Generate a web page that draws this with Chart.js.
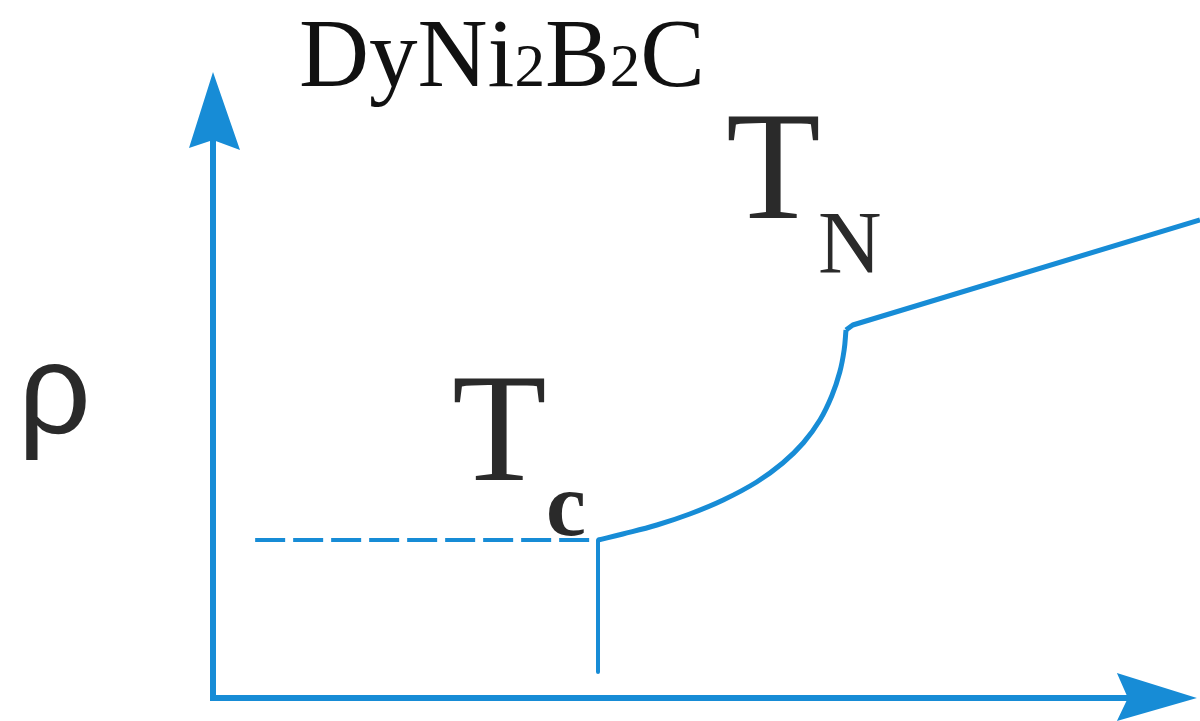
<!doctype html>
<html>

<head>
	<title>DyNi2B2C resistivity</title>
	<script src="https://cdn.jsdelivr.net/npm/chart.js@4.4.1/dist/chart.umd.min.js"></script>
	<style>
		html, body {
			margin: 0;
			padding: 0;
			background: #fff;
		}
		canvas {
			display: block;
		}
	</style>
</head>

<body>
	<canvas id="canvas" width="1200" height="721"></canvas>
	<script>
		// temperature (K) and resistivity (arb. units)
		var FLUCT_T = [0.68, 6.21];
		var FLUCT_RHO = [15.8, 15.8];

		var DROP_T = [6.21, 6.21];
		var DROP_RHO = [15.8, 2.6];

		var CURVE_T = [6.21, 6.61, 7.16, 7.69, 8.23, 8.77, 9.19, 9.52, 9.79, 9.98, 10.11, 10.18, 10.21];
		var CURVE_RHO = [15.8, 16.4, 17.3, 18.4, 19.8, 21.6, 23.5, 25.5, 27.8, 30.2, 32.6, 34.8, 36.8];

		var NORMAL_T = [10.21, 10.32, 15.92];
		var NORMAL_RHO = [36.8, 37.3, 47.8];

		// extent of the drawn axes (arrow tips)
		var AXIS_T_MAX = 15.87;
		var AXIS_RHO_MAX = 62.6;

		var BLUE = '#178cd6';

		function pts(xs, ys) {
			return xs.map(function(x, i) {
				return {x: x, y: ys[i]};
			});
		}

		var axesPlugin = {
			id: 'arrowAxes',
			beforeDatasetsDraw: function(chart) {
				var ctx = chart.ctx;
				var sx = chart.scales.x;
				var sy = chart.scales.y;
				var ox = sx.getPixelForValue(0);
				var oy = sy.getPixelForValue(0);
				var tx = sx.getPixelForValue(AXIS_T_MAX);
				var ty = sy.getPixelForValue(AXIS_RHO_MAX);

				ctx.save();
				ctx.strokeStyle = BLUE;
				ctx.fillStyle = BLUE;
				ctx.lineWidth = 6;
				ctx.lineCap = 'butt';
				ctx.beginPath();
				ctx.moveTo(ox, ty + 40);
				ctx.lineTo(ox, oy);
				ctx.lineTo(tx - 40, oy);
				ctx.stroke();

				// arrow heads
				ctx.beginPath();
				ctx.moveTo(ox, ty);
				ctx.lineTo(ox + 27, ty + 78);
				ctx.lineTo(ox, ty + 68);
				ctx.lineTo(ox - 24, ty + 76);
				ctx.closePath();
				ctx.fill();

				ctx.beginPath();
				ctx.moveTo(tx, oy);
				ctx.lineTo(tx - 80, oy + 23);
				ctx.lineTo(tx - 69, oy);
				ctx.lineTo(tx - 80, oy - 25);
				ctx.closePath();
				ctx.fill();
				ctx.restore();
			},
			afterDraw: function(chart) {
				var ctx = chart.ctx;
				ctx.save();
				ctx.fillStyle = '#111';
				ctx.textBaseline = 'alphabetic';

				// compound formula with subscripts
				var parts = [['Dy', 97], ['Ni', 97], ['2', 61], ['B', 97], ['2', 61], ['C', 97]];
				var x = 299;
				parts.forEach(function(p) {
					ctx.font = p[1] + 'px "Liberation Serif", "Times New Roman", serif';
					ctx.fillText(p[0], x, 86);
					x += ctx.measureText(p[0]).width;
				});

				ctx.fillStyle = '#2a2a2a';
				ctx.font = '128px "Liberation Sans", Arial, sans-serif';
				ctx.fillText('\u03c1', 18, 433);

				ctx.font = '155px "Liberation Serif", "Times New Roman", serif';
				ctx.fillText('T', 452, 480);
				ctx.fillText('T', 726, 218);
				ctx.font = '600 90px "Liberation Serif", "Times New Roman", serif';
				ctx.fillText('c', 546, 535);
				ctx.font = '88px "Liberation Serif", "Times New Roman", serif';
				ctx.fillText('N', 818, 272);
				ctx.restore();
			}
		};

		var config = {
			type: 'line',
			data: {
				datasets: [{
					data: pts(FLUCT_T, FLUCT_RHO),
					borderColor: BLUE,
					borderWidth: 4,
					borderDash: [30, 8]
				}, {
					data: pts(DROP_T, DROP_RHO),
					borderColor: BLUE,
					borderWidth: 4
				}, {
					data: pts(CURVE_T, CURVE_RHO),
					borderColor: BLUE,
					borderWidth: 5,
					tension: 0.4
				}, {
					data: pts(NORMAL_T, NORMAL_RHO),
					borderColor: BLUE,
					borderWidth: 5
				}]
			},
			options: {
				responsive: false,
				animation: false,
				events: [],
				layout: {
					padding: {left: 213, right: 0, top: 0, bottom: 23}
				},
				elements: {
					point: {radius: 0},
					line: {borderJoinStyle: 'round', borderCapStyle: 'butt'}
				},
				plugins: {
					legend: {display: false},
					title: {display: false},
					tooltip: {enabled: false}
				},
				scales: {
					x: {type: 'linear', display: false, min: 0, max: 15.92},
					y: {type: 'linear', display: false, min: 0, max: 69.8}
				}
			},
			plugins: [axesPlugin]
		};

		window.onload = function() {
			window.myChart = new Chart('canvas', config);
		};
	</script>
</body>

</html>
